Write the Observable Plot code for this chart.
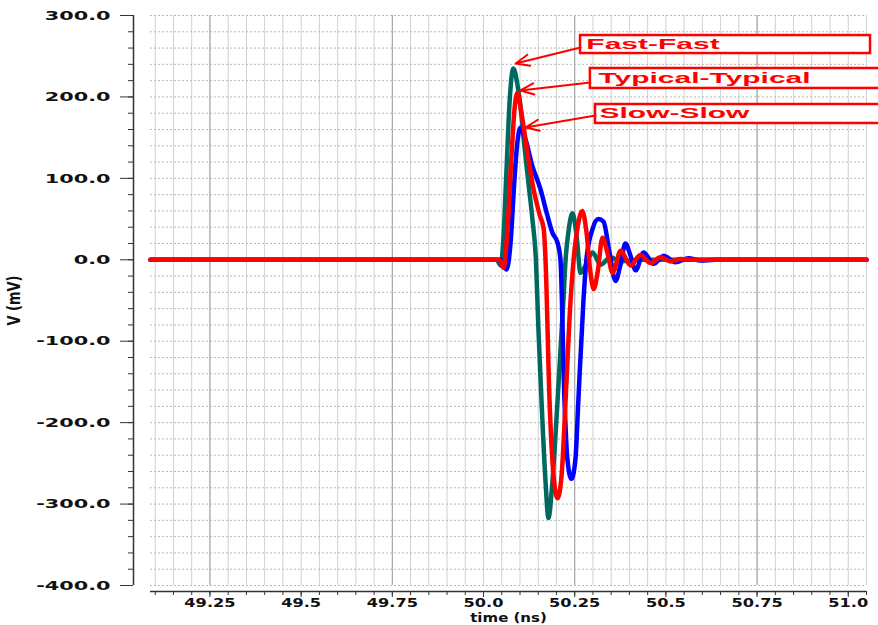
<!DOCTYPE html>
<html>
<head>
<meta charset="utf-8">
<script src="https://cdn.jsdelivr.net/npm/d3@7"></script>
<script src="https://cdn.jsdelivr.net/npm/@observablehq/plot@0.6"></script>
<style>
  html, body { margin: 0; padding: 0; background: #fff; }
  #chart svg { display: block; }
  #chart svg text { font-family: "DejaVu Sans", sans-serif; }
  #chart [aria-label="y-axis tick label"] text,
  #chart [aria-label="x-axis tick label"] text,
  #chart [aria-label="y-axis label"] text,
  #chart [aria-label="x-axis label"] text { font-weight: bold; fill: #111; }
  #chart [aria-label="x-axis label"] text { font-size: 12px; }
  #chart text.callout { font-family: "Liberation Sans", Arial, sans-serif; font-weight: bold; }
</style>
</head>
<body>
<div id="chart"></div>
<script>
// ---- Data (time in ns, voltage in mV) ----
const seriesNames = ["Fast-Fast", "Typical-Typical", "Slow-Slow"];
const seriesColors = ["#00695f", "#ff0000", "#0000ff"];

const ffTime = [49.087, 50.036, 50.047, 50.055, 50.063, 50.071, 50.082, 50.093, 50.101, 50.112, 50.123, 50.134, 50.143, 50.151, 50.159, 50.170, 50.178, 50.189, 50.203, 50.219, 50.225, 50.233, 50.244, 50.255, 50.266, 50.282, 50.299, 50.321, 50.348, 50.376, 50.430, 51.05];
const ffMv   = [0, 0, -7, 30, 110, 190, 235, 215, 190, 140, 95, 50, 5, -90, -173, -272, -317, -272, -173, -50, 0, 35, 57, 30, -16, -5, 9, -6, 3, -2, 0, 0];

const ttTime = [49.087, 50.044, 50.055, 50.066, 50.077, 50.085, 50.093, 50.104, 50.121, 50.137, 50.154, 50.165, 50.170, 50.181, 50.192, 50.203, 50.214, 50.225, 50.236, 50.247, 50.258, 50.271, 50.282, 50.293, 50.302, 50.313, 50.326, 50.340, 50.354, 50.376, 50.403, 50.430, 50.458, 50.485, 50.513, 50.540, 50.581, 51.05];
const ttMv   = [0, 0, -10, 40, 130, 185, 205, 180, 130, 87, 55, 38, 0, -173, -265, -293, -265, -173, -70, 0, 40, 60, 35, -15, -36, -15, 27, 8, -16, 11, -7, 6, -4, 3, -2, 1, 0, 0];

const ssTime = [49.087, 50.049, 50.063, 50.074, 50.085, 50.093, 50.101, 50.115, 50.134, 50.156, 50.173, 50.189, 50.203, 50.211, 50.222, 50.230, 50.241, 50.252, 50.260, 50.274, 50.282, 50.299, 50.315, 50.329, 50.345, 50.362, 50.376, 50.389, 50.403, 50.417, 50.439, 50.466, 50.494, 50.526, 50.562, 50.595, 50.636, 51.05];
const ssMv   = [0, 0, -12, 20, 100, 145, 162, 148, 115, 87, 58, 33, 21, 0, -173, -245, -269, -245, -173, -50, 0, 38, 50, 47, 10, -26, -5, 20, 5, -13, 9, -5, 5, -3, 2, -1, 0, 0];

// Axis ticks
const xMajor = [49.25, 49.5, 49.75, 50.0, 50.25, 50.5, 50.75, 51.0];
const xTickLabels = ["49.25", "49.5", "49.75", "50.0", "50.25", "50.5", "50.75", "51.0"];
const yMajor = [-400, -300, -200, -100, 0, 100, 200, 300];
const yTickLabels = ["-400.0", "-300.0", "-200.0", "-100.0", "0.0", "100.0", "200.0", "300.0"];
const xDomain = [49.087, 51.05];
const yDomain = [-400, 300];

// Annotation callouts (box corners, arrow start -> arrow tip, label anchor)
const boxT1 = [50.266, 50.293, 50.307];
const boxT2 = [51.061, 51.1, 51.1];
const boxV1 = [253.3, 210.4, 167.4];
const boxV2 = [275.4, 234.9, 190.7];
const arrowStartT = [50.266, 50.293, 50.307];
const arrowStartV = [260.7, 217.7, 177.1];
const arrowTipT = [50.088, 50.101, 50.115];
const arrowTipV = [241.1, 207.9, 162.4];
const labelT = [50.282, 50.315, 50.318];
const labelV = [264.4, 222.6, 179.7];

// ---- Build tables ----
const mk = (name, T, V) => T.map((t, i) => ({series: name, t, v: V[i]}));
const ff = mk(seriesNames[0], ffTime, ffMv);
const tt = mk(seriesNames[1], ttTime, ttMv);
const ss = mk(seriesNames[2], ssTime, ssMv);
const callouts = seriesNames.map((name, i) => ({
  name, bx1: boxT1[i], bx2: boxT2[i], by1: boxV1[i], by2: boxV2[i],
  ax1: arrowStartT[i], ay1: arrowStartV[i], ax2: arrowTipT[i], ay2: arrowTipV[i],
  lx: labelT[i], ly: labelV[i]
}));

const xGrid = d3.range(0, 40).map(i => +(49.1 + i * 0.05).toFixed(2));
const xDark = [49.25, 49.75, 50.25, 50.75];
const yGrid = d3.range(-400, 301, 20);

const plot = Plot.plot({
  width: 878,
  height: 625,
  marginLeft: 150,
  marginRight: 12,
  marginTop: 15,
  marginBottom: 40,
  x: {domain: xDomain},
  y: {domain: yDomain},
  style: {background: "white", fontFamily: "DejaVu Sans"},
  marks: [
    Plot.ruleX(xGrid, {stroke: "#d0d0d0", strokeWidth: 1}),
    Plot.ruleX(xDark, {stroke: "#a0a0a0", strokeWidth: 1}),
    Plot.ruleY(yGrid, {stroke: "#b8b8b8", strokeWidth: 1, strokeDasharray: "2,2"}),
    // axis lines
    Plot.ruleX([xDomain[0]], {dx: -17, stroke: "#333", strokeWidth: 1.5}),
    Plot.ruleY([yDomain[0]], {dy: 6, stroke: "#333", strokeWidth: 1.5}),
    // y axis
    Plot.axisY(yGrid, {tickSize: 5, tickFormat: () => "", dx: -17, stroke: "#333", label: null}),
    Plot.axisY(yMajor, {
      tickSize: 13, tickPadding: 10, dx: -17, stroke: "#333", fontSize: 13,
      tickFormat: d => yTickLabels[yMajor.indexOf(d)],
      label: "V (mV)", labelAnchor: "center", labelOffset: 143, labelArrow: "none"
    }),
    // x axis
    Plot.axisX(xGrid, {tickSize: 4, tickFormat: () => "", dy: 6, stroke: "#333", label: null}),
    Plot.axisX(xMajor, {
      tickSize: 6, tickPadding: 1, dy: 6, stroke: "#333", fontSize: 12,
      tickFormat: d => xTickLabels[xMajor.indexOf(d)],
      label: "time (ns)", labelAnchor: "center", labelOffset: 36, labelArrow: "none"
    }),
    // waveforms
    Plot.line(ff, {x: "t", y: "v", stroke: seriesColors[0], strokeWidth: 4.5, curve: "monotone-x"}),
    Plot.line(ss, {x: "t", y: "v", stroke: seriesColors[2], strokeWidth: 4.5, curve: "monotone-x"}),
    Plot.line(tt, {x: "t", y: "v", stroke: seriesColors[1], strokeWidth: 4.5, curve: "monotone-x"}),
    // callouts
    Plot.rect(callouts, {x1: "bx1", x2: "bx2", y1: "by1", y2: "by2", fill: "white", stroke: "#ff0000", strokeWidth: 2.5}),
    Plot.arrow(callouts, {x1: "ax1", y1: "ay1", x2: "ax2", y2: "ay2", stroke: "#ff0000", strokeWidth: 2, headLength: 11, headAngle: 45}),
    Plot.text(callouts, {x: "lx", y: "ly", text: "name", textAnchor: "start", fill: "#ff0000", fontSize: 15, fontWeight: "bold"})
  ]
});

document.getElementById("chart").appendChild(plot);

// Horizontal stretch of text (the original is rendered with wide lettering)
function stretchEl(t, s) {
  const x = +t.getAttribute("x") || 0, y = +t.getAttribute("y") || 0;
  const tr = t.getAttribute("transform") || "";
  const sc = /rotate/.test(tr) ? `scale(1,${s})` : `scale(${s},1)`;
  t.setAttribute("transform", `${tr} translate(${x},${y}) ${sc} translate(${-x},${-y})`);
}
function stretch(label, s) {
  plot.querySelectorAll(`[aria-label="${label}"] text`).forEach(t => stretchEl(t, s));
}
stretch("y-axis tick label", 1.6);
stretch("x-axis tick label", 1.35);
stretch("y-axis label", 1.4);
stretch("x-axis label", 1.25);
plot.querySelectorAll("text").forEach(t => {
  if (seriesNames.includes(t.textContent)) { t.classList.add("callout"); stretchEl(t, 2.0); }
});
</script>
</body>
</html>
